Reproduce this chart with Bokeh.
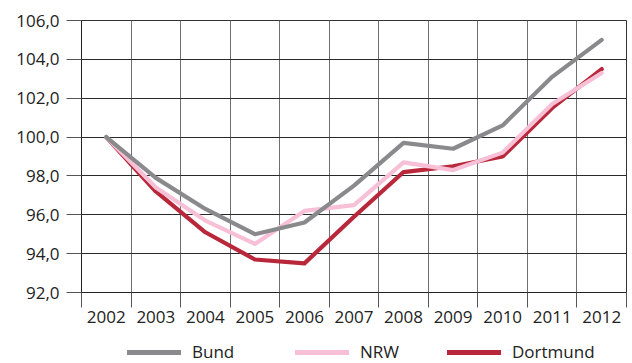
from bokeh.plotting import figure
from bokeh.layouts import column
from bokeh.models import FixedTicker, Legend, LegendItem, Range1d
from bokeh.embed import file_html
from bokeh.resources import INLINE

years = [2002, 2003, 2004, 2005, 2006, 2007, 2008, 2009, 2010, 2011, 2012]
bund = [100.0, 97.9, 96.3, 95.0, 95.6, 97.5, 99.7, 99.4, 100.6, 103.1, 105.0]
nrw = [100.0, 97.4, 95.7, 94.5, 96.2, 96.5, 98.7, 98.3, 99.2, 101.7, 103.3]
dortmund = [100.0, 97.2, 95.1, 93.7, 93.5, 95.9, 98.2, 98.5, 99.0, 101.5, 103.5]
y_ticks = [92, 94, 96, 98, 100, 102, 104, 106]
series_names = ["Bund", "NRW", "Dortmund"]
colors = ["#8a8a8d", "#f8c0d6", "#b8283a"]

FONT = "Open Sans"
TXT = "#222222"

p = figure(width=632, height=335, output_backend="svg", toolbar_location=None,
           x_range=Range1d(years[0] - 0.5, years[-1] + 0.5),
           y_range=Range1d(y_ticks[0], y_ticks[-1]),
           min_border_left=81, min_border_right=6, min_border_top=20,
           min_border_bottom=43)
p.background_fill_color = "white"
p.border_fill_color = "white"
p.outline_line_color = "#333333"
p.outline_line_width = 1

bounds = [y - 0.5 for y in years] + [years[-1] + 0.5]

# x axis
p.xaxis.ticker = FixedTicker(ticks=years, minor_ticks=bounds)
p.xaxis.major_tick_out = 0
p.xaxis.major_tick_in = 0
p.xaxis.minor_tick_out = 15
p.xaxis.minor_tick_in = 0
p.xaxis.minor_tick_line_color = "#555555"
p.xaxis.axis_line_color = "#222222"
p.xaxis.major_label_standoff = 3
p.xaxis.major_label_text_font = FONT
p.xaxis.major_label_text_font_size = "17px"
p.xaxis.major_label_text_color = TXT

# y axis
p.yaxis.ticker = FixedTicker(ticks=y_ticks)
p.yaxis.major_label_overrides = {t: f"{t:.1f}".replace(".", ",") for t in y_ticks}
p.yaxis.major_tick_out = 15
p.yaxis.major_tick_in = 0
p.yaxis.major_tick_line_color = "#555555"
p.yaxis.minor_tick_line_color = None
p.yaxis.axis_line_color = "#222222"
p.yaxis.major_label_standoff = 7
p.yaxis.major_label_text_font = FONT
p.yaxis.major_label_text_font_size = "17px"
p.yaxis.major_label_text_color = TXT

# grids
p.xgrid.ticker = FixedTicker(ticks=bounds)
p.xgrid.grid_line_color = "#707070"
p.xgrid.grid_line_width = 1
p.ygrid.ticker = FixedTicker(ticks=y_ticks)
p.ygrid.grid_line_color = "#2a2a2a"
p.ygrid.grid_line_width = 1

data = [bund, nrw, dortmund]
# draw order: Dortmund, NRW, Bund
for i in [2, 1, 0]:
    p.line(years, data[i], line_color=colors[i], line_width=4.2,
           line_cap="round", line_join="round")

# legend strip in its own small figure (frame is aligned with the main plot)
lg = figure(width=632, height=28, output_backend="svg", toolbar_location=None,
            x_range=Range1d(0, 1), y_range=Range1d(0, 1),
            min_border_left=81, min_border_right=6,
            min_border_top=0, min_border_bottom=0)
lg.axis.visible = False
lg.grid.visible = False
lg.outline_line_color = None
lg.background_fill_color = "white"
lg.border_fill_color = "white"

offsets = [46, 214, 366]
for i, name in enumerate(series_names):
    # the series itself, lying outside this strip's ranges: only its legend glyph shows
    proxy = lg.line(years, data[i], line_color=colors[i], line_width=5,
                    line_cap="round")
    leg = Legend(items=[LegendItem(label=name, renderers=[proxy])],
                 location=(offsets[i], 0), orientation="horizontal",
                 padding=0, margin=0, spacing=0,
                 glyph_width=54, glyph_height=20, label_height=20,
                 label_standoff=11,
                 label_text_font=FONT, label_text_font_size="17px",
                 label_text_color=TXT,
                 border_line_color=None, background_fill_alpha=0)
    lg.add_layout(leg, "center")

layout = column(p, lg, spacing=0)
open("out.html", "w").write(file_html(layout, INLINE))
